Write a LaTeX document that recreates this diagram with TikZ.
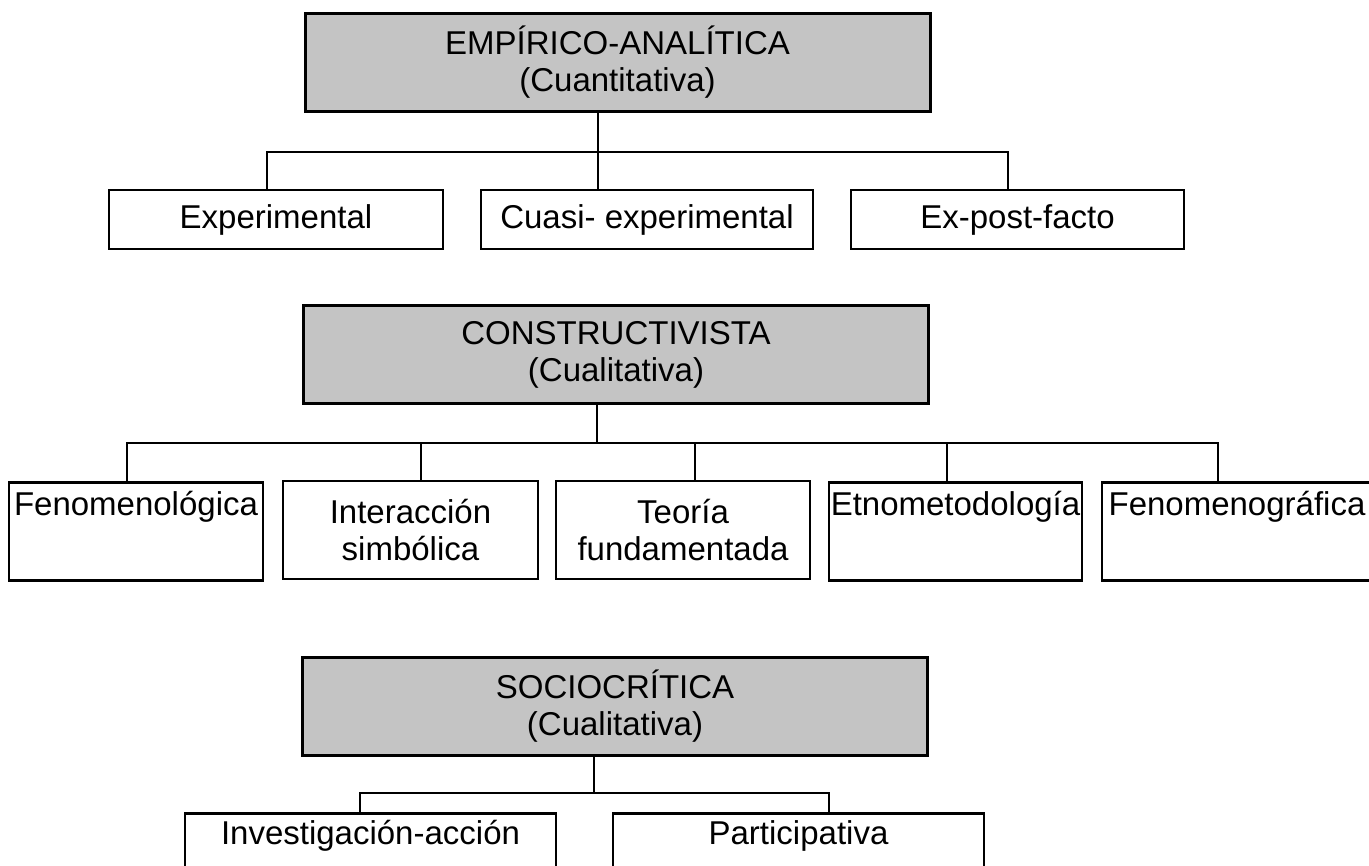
\documentclass[tikz,border=0pt]{standalone}
\usepackage{fontspec}
\setmainfont{Liberation Sans}
\definecolor{boxgray}{gray}{0.77}
\begin{document}
\begin{tikzpicture}[x=1pt,y=-1pt,
  every node/.style={font=\fontsize{33}{37}\selectfont},
  headbox/.style={draw=black, line width=3pt, fill=boxgray,
    minimum width=625pt, minimum height=98pt, inner sep=0pt, align=center},
  leafbox/.style={draw=black, line width=2.6pt, fill=white, inner sep=0pt},
  rowone/.style={leafbox, minimum height=59pt},
  rowtwo/.style={leafbox, minimum height=98pt},
  toptext/.style={leafbox, anchor=north, text height=33pt, text depth=65pt},
  rowthree/.style={leafbox, anchor=north, minimum width=371pt, text height=31pt, text depth=32pt},
  link/.style={line width=2.6pt}]
\useasboundingbox (0,0) rectangle (1369,866);
\fill[white] (0,0) rectangle (1369,866);

% ---- Empirico-analitica ----
\node[headbox] (emp) at (617.5,62.5) {EMPÍRICO-ANALÍTICA\\(Cuantitativa)};
\node[rowone, minimum width=334pt] (exp) at (276,219.5) {Experimental};
\node[rowone, minimum width=332pt] (cua) at (647,219.5) {Cuasi- experimental};
\node[rowone, minimum width=333pt] (exf) at (1017.5,219.5) {Ex-post-facto};

\coordinate (h1) at (598,152);
\draw[link] (h1 |- emp.south) -- (h1 |- cua.north);
\draw[link] ([xshift=-9pt]exp.north) |- (h1) -| ([xshift=-9.5pt]exf.north);

% ---- Constructivista ----
\node[headbox] (con) at (616,355) {CONSTRUCTIVISTA\\(Cualitativa)};
\node[toptext, minimum width=254pt] (fen) at (136,481) {Fenomenológica};
\node[rowtwo, minimum width=255pt, align=center] (int) at (410.5,530) {Interacción\\simbólica};
\node[rowtwo, minimum width=254pt, align=center] (teo) at (683,530) {Teoría\\fundamentada};
\node[toptext, minimum width=253pt] (etn) at (955.5,481) {Etnometodología};
\node[toptext, minimum width=270pt] (fgr) at (1237,481) {Fenomenográfica};

\coordinate (h2) at (597,443);
\draw[link] (h2 |- con.south) -- (h2);
\draw[link] ([xshift=-9pt]fen.north) |- (h2) -| ([xshift=-19pt]fgr.north);
\draw[link] ([xshift=10.5pt]int.north) -- ([xshift=10.5pt]int.north |- h2);
\draw[link] ([xshift=12pt]teo.north) -- ([xshift=12pt]teo.north |- h2);
\draw[link] ([xshift=-8.5pt]etn.north) -- ([xshift=-8.5pt]etn.north |- h2);

% ---- Sociocritica ----
\node[headbox] (soc) at (615,706.5) {SOCIOCRÍTICA\\(Cualitativa)};
\node[rowthree] (inv) at (370.5,812) {Investigación-acción};
\node[rowthree] (par) at (798.5,812) {Participativa};

\coordinate (h3) at (594,793);
\draw[link] (h3 |- soc.south) -- (h3);
\draw[link] ([xshift=-10.5pt]inv.north) |- (h3) -| ([xshift=30.5pt]par.north);
\end{tikzpicture}
\end{document}
